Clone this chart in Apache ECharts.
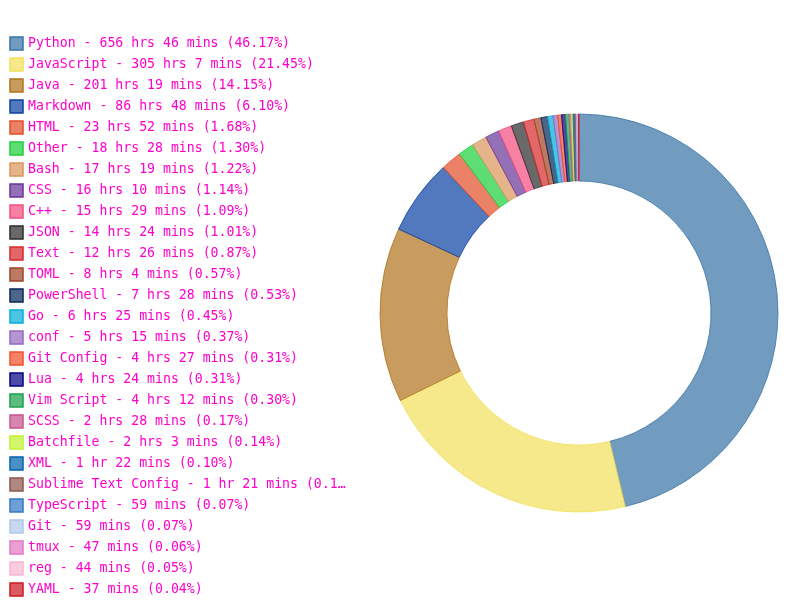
<!DOCTYPE html>
<html>
<head>
<meta charset="utf-8">
<script src="https://cdn.jsdelivr.net/npm/echarts@6/dist/echarts.min.js"></script>
<style>html,body{margin:0;padding:0;background:#fff;}#c{width:800px;height:600px;}</style>
</head>
<body>
<div id="c"></div>
<script>
const languages = ["Python","JavaScript","Java","Markdown","HTML","Other","Bash","CSS","C++","JSON","Text","TOML","PowerShell","Go","conf","Git Config","Lua","Vim Script","SCSS","Batchfile","XML","Sublime Text Config","TypeScript","Git","tmux","reg","YAML"];
const hours = [656,305,201,86,23,18,17,16,15,14,12,8,7,6,5,4,4,4,2,2,1,1,0,0,0,0,0];
const mins = [46,7,19,48,52,28,19,10,29,24,26,4,28,25,15,27,24,12,28,3,22,21,59,59,47,44,37];
const percents = ["46.17","21.45","14.15","6.10","1.68","1.30","1.22","1.14","1.09","1.01","0.87","0.57","0.53","0.45","0.37","0.31","0.31","0.30","0.17","0.14","0.10","0.10","0.07","0.07","0.06","0.05","0.04"];
const baseColors = ["#3572a5","#f1e05a","#b07219","#083fa1","#e34c26","#19cf3a","#da9458","#663399","#f34b7d","#292929","#d62728","#9c4221","#012456","#00add8","#9467bd","#f44d27","#000080","#199f4b","#c6538c","#c1f12e","#0060ac","#8c564b","#3178c6","#aec7e8","#e377c2","#f7b6d2","#cb171e"];

function rgba(hex, a) {
  const r = parseInt(hex.substr(1,2),16), g = parseInt(hex.substr(3,2),16), b = parseInt(hex.substr(5,2),16);
  return 'rgba(' + r + ',' + g + ',' + b + ',' + a + ')';
}
function durText(i) {
  const h = hours[i], m = mins[i];
  let s = '';
  if (h > 0) s += h + (h === 1 ? ' hr ' : ' hrs ');
  s += m + ' mins';
  return s;
}
const labelMap = {};
const data = languages.map((name, i) => {
  labelMap[name] = name + ' - ' + durText(i) + ' (' + percents[i] + '%)';
  return {
    name: name,
    value: hours[i] * 60 + mins[i],
    itemStyle: { color: rgba(baseColors[i], 0.7), borderColor: rgba(baseColors[i], 0.75), borderWidth: 1 }
  };
});

const chart = echarts.init(document.getElementById('c'));
chart.setOption({
  animation: false,
  backgroundColor: '#fff',
  legend: {
    orient: 'vertical',
    left: 9,
    top: 36,
    height: 2000,
    padding: 0,
    itemWidth: 13,
    itemHeight: 13,
    itemGap: 6,
    icon: 'rect',
    selectedMode: false,
    formatter: function (name) { return labelMap[name]; },
    textStyle: {
      fontFamily: 'DejaVu Sans Mono',
      fontSize: 13.2,
      color: '#ff00cc',
      width: 320,
      overflow: 'truncate',
      ellipsis: '…'
    },
    data: languages
  },
  series: [{
    type: 'pie',
    center: [579, 313],
    radius: [132, 199],
    startAngle: 90,
    clockwise: true,
    avoidLabelOverlap: false,
    label: { show: false },
    labelLine: { show: false },
    emphasis: { disabled: true },
    data: data
  }]
});
</script>
</body>
</html>
